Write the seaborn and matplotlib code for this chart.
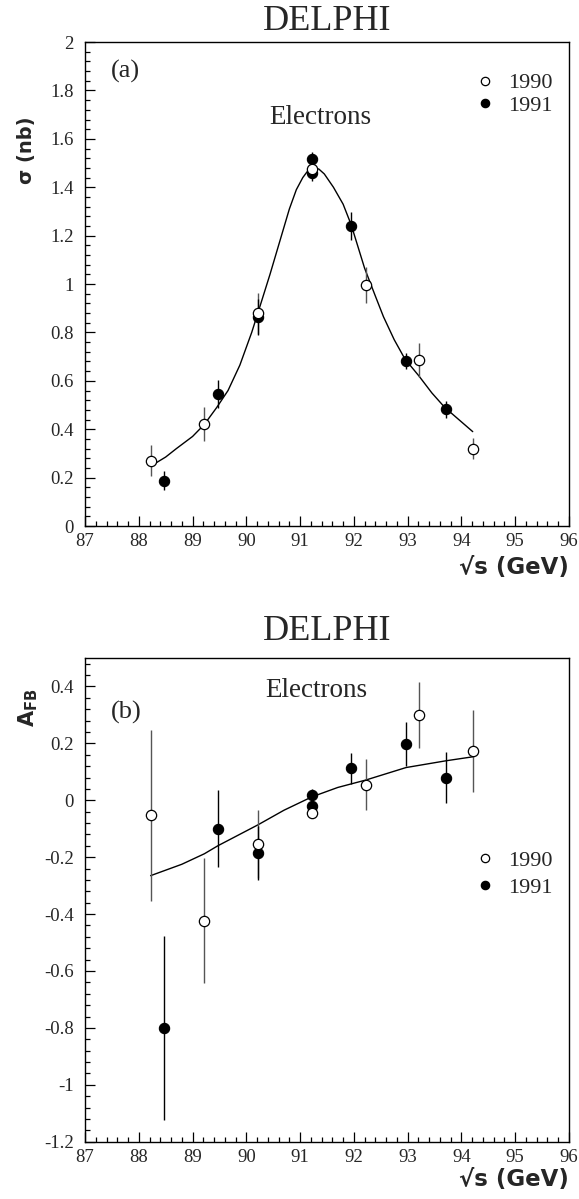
import numpy as np
import pandas as pd
import matplotlib
matplotlib.use("Agg")
import matplotlib.pyplot as plt
from matplotlib.ticker import MultipleLocator
from matplotlib.lines import Line2D
import seaborn as sns

# ---------------- data ----------------
# Panel (a): cross section sigma (nb)
sig_x_1990 = [88.22, 89.22, 90.22, 91.22, 92.22, 93.22, 94.22]
sig_y_1990 = [0.27, 0.42, 0.88, 1.474, 0.995, 0.685, 0.32]
sig_e_1990 = [0.065, 0.07, 0.085, 0.03, 0.075, 0.07, 0.045]

sig_x_1991 = [88.47, 89.47, 90.22, 91.22, 91.22, 91.95, 92.96, 93.71]
sig_y_1991 = [0.187, 0.545, 0.865, 1.516, 1.457, 1.24, 0.682, 0.482]
sig_e_1991 = [0.04, 0.058, 0.075, 0.03, 0.03, 0.058, 0.035, 0.035]

sig_fit_x = [88.24, 88.5, 88.7, 89.0, 89.22, 89.45, 89.66, 89.88, 90.1, 90.2, 90.44,
             90.68, 90.8, 90.93, 91.05, 91.15, 91.26, 91.35, 91.45, 91.62, 91.8,
             91.95, 92.2, 92.4, 92.55, 92.75, 92.95, 93.21, 93.45, 93.69, 93.95, 94.21]
sig_fit_y = [0.25, 0.285, 0.32, 0.37, 0.42, 0.49, 0.56, 0.665, 0.80, 0.87, 1.04,
             1.22, 1.31, 1.39, 1.44, 1.47, 1.48, 1.475, 1.455, 1.40, 1.33,
             1.245, 1.065, 0.95, 0.865, 0.77, 0.69, 0.62, 0.55, 0.49, 0.44, 0.39]

# Panel (b): forward-backward asymmetry A_FB
afb_x_1990 = [88.22, 89.22, 90.22, 91.22, 92.22, 93.22, 94.22]
afb_y_1990 = [-0.053, -0.424, -0.153, -0.044, 0.055, 0.30, 0.174]
afb_e_1990 = [0.30, 0.22, 0.12, 0.02, 0.09, 0.115, 0.145]

afb_x_1991 = [88.47, 89.47, 90.22, 91.22, 91.22, 91.95, 92.96, 93.71]
afb_y_1991 = [-0.80, -0.10, -0.185, 0.018, -0.02, 0.112, 0.197, 0.079]
afb_e_1991 = [0.324, 0.135, 0.095, 0.02, 0.02, 0.055, 0.077, 0.09]

afb_fit_x = [88.22, 88.8, 89.22, 89.47, 90.22, 90.7, 91.22, 91.7, 92.22, 92.97, 93.72, 94.22]
afb_fit_y = [-0.265, -0.225, -0.188, -0.16, -0.086, -0.035, 0.012, 0.045, 0.071, 0.115, 0.139, 0.153]

years = ["1990", "1991"]
x_ticks = [87, 88, 89, 90, 91, 92, 93, 94, 95, 96]
# ----------------------------------------------------------------

sns.set_theme(style="ticks")
plt.rcParams['font.family'] = ['Liberation Serif', 'DejaVu Serif']
plt.rcParams['mathtext.fontset'] = 'dejavusans'

fig = plt.figure(figsize=(5.79, 11.99), dpi=100)
ax1 = fig.add_axes([0.1468, 0.5613, 0.8359, 0.4036])
ax2 = fig.add_axes([0.1468, 0.0478, 0.8359, 0.4034])

SERIF = 'Liberation Serif'


def draw_panel(ax, x90, y90, e90, x91, y91, e91, fx, fy):
    d90 = pd.DataFrame({"x": x90, "y": y90, "year": years[0]})
    d91 = pd.DataFrame({"x": x91, "y": y91, "year": years[1]})
    fit = pd.DataFrame({"x": fx, "y": fy})
    sns.lineplot(data=fit, x="x", y="y", ax=ax, color="black", lw=1.0, sort=False)
    ax.errorbar(x90, y90, yerr=e90, fmt="none", ecolor="#555555", elinewidth=1.0, capsize=0, zorder=2)
    ax.errorbar(x91, y91, yerr=e91, fmt="none", ecolor="black", elinewidth=1.0, capsize=0, zorder=2)
    sns.scatterplot(data=d91, x="x", y="y", ax=ax, color="black", edgecolor="black",
                    s=55, marker="o", linewidth=0.8, zorder=4, legend=False)
    sns.scatterplot(data=d90, x="x", y="y", ax=ax, color="white", edgecolor="black",
                    s=55, marker="o", linewidth=0.9, zorder=5, legend=False)


def style_axes(ax, ylo, yhi, ymaj, ymin):
    ax.set_xlim(87, 96)
    ax.set_ylim(ylo, yhi)
    ax.set_xticks(x_ticks)
    ax.xaxis.set_minor_locator(MultipleLocator(0.2))
    ax.yaxis.set_major_locator(MultipleLocator(ymaj))
    ax.yaxis.set_minor_locator(MultipleLocator(ymin))
    ax.tick_params(which="both", direction="in", top=False, right=False,
                   labelsize=13.5, color="black", width=0.9)
    ax.tick_params(which="major", length=7)
    ax.tick_params(which="minor", length=3.5)
    ax.tick_params(axis="y", which="major", pad=8)
    ax.tick_params(axis="x", which="major", pad=5)
    for sp in ax.spines.values():
        sp.set_visible(True)
        sp.set_linewidth(1.0)
        sp.set_color("black")
    ax.set_xlabel("")
    ax.set_ylabel("")


def fmt_y(v):
    s = f"{v:.1f}"
    if s.endswith(".0"):
        s = s[:-2]
    if s == "-0":
        s = "0"
    return s


# ---- panel (a) ----
draw_panel(ax1, sig_x_1990, sig_y_1990, sig_e_1990, sig_x_1991, sig_y_1991, sig_e_1991,
           sig_fit_x, sig_fit_y)
style_axes(ax1, 0, 2, 0.2, 0.04)
yt = np.round(np.arange(0, 2.01, 0.2), 1)
ax1.set_yticks(yt)
ax1.set_yticklabels([fmt_y(v) for v in yt], fontfamily=SERIF)
ax1.set_xticklabels([str(v) for v in x_ticks], fontfamily=SERIF)
ax1.text(87.48, 1.88, "(a)", fontsize=19, fontfamily=SERIF, va="center", ha="left")
ax1.text(91.37, 1.69, "Electrons", fontsize=19.5, fontfamily=SERIF, va="center", ha="center")

# ---- panel (b) ----
draw_panel(ax2, afb_x_1990, afb_y_1990, afb_e_1990, afb_x_1991, afb_y_1991, afb_e_1991,
           afb_fit_x, afb_fit_y)
style_axes(ax2, -1.2, 0.5, 0.2, 0.04)
yt2 = np.round(np.arange(-1.2, 0.41, 0.2), 1)
ax2.set_yticks(yt2)
ax2.set_yticklabels([fmt_y(v) for v in yt2], fontfamily=SERIF)
ax2.set_xticklabels([str(v) for v in x_ticks], fontfamily=SERIF)
ax2.text(87.48, 0.31, "(b)", fontsize=19, fontfamily=SERIF, va="center", ha="left")
ax2.text(91.3, 0.385, "Electrons", fontsize=19.5, fontfamily=SERIF, va="center", ha="center")

# legends
handles = [
    Line2D([], [], marker="o", ls="none", mfc="white", mec="black", ms=6, mew=0.9),
    Line2D([], [], marker="o", ls="none", mfc="black", mec="black", ms=6, mew=0.9),
]
leg1 = ax1.legend(handles, years, loc="upper right", bbox_to_anchor=(0.985, 0.955),
                  frameon=False, prop={"family": SERIF, "size": 16},
                  handletextpad=0.45, labelspacing=0.1, handlelength=1.2, borderaxespad=0)
leg2 = ax2.legend(handles, years, loc="upper right", bbox_to_anchor=(0.985, 0.621),
                  frameon=False, prop={"family": SERIF, "size": 16},
                  handletextpad=0.45, labelspacing=0.3, handlelength=1.2, borderaxespad=0)

# titles
fig.text(0.565, 0.982, "DELPHI", ha="center", va="center", fontsize=26, fontfamily=SERIF)
fig.text(0.565, 0.473, "DELPHI", ha="center", va="center", fontsize=26, fontfamily=SERIF)

# axis labels (bold sans)
SANS = ['DejaVu Sans']
fig.text(0.983, 0.527, "√s (GeV)", ha="right", va="center", fontsize=16.5,
         fontweight="bold", family=SANS)
fig.text(0.983, 0.016, "√s (GeV)", ha="right", va="center", fontsize=16.5,
         fontweight="bold", family=SANS)
fig.text(0.045, 0.875, "σ (nb)", ha="center", va="center", rotation=90, fontsize=14,
         fontweight="bold", family=SANS)
fig.text(0.048, 0.41, r"$\mathbf{A_{FB}}$", ha="center", va="center", rotation=90,
         fontsize=15, family=SANS)

fig.savefig("out.png", dpi=100)
